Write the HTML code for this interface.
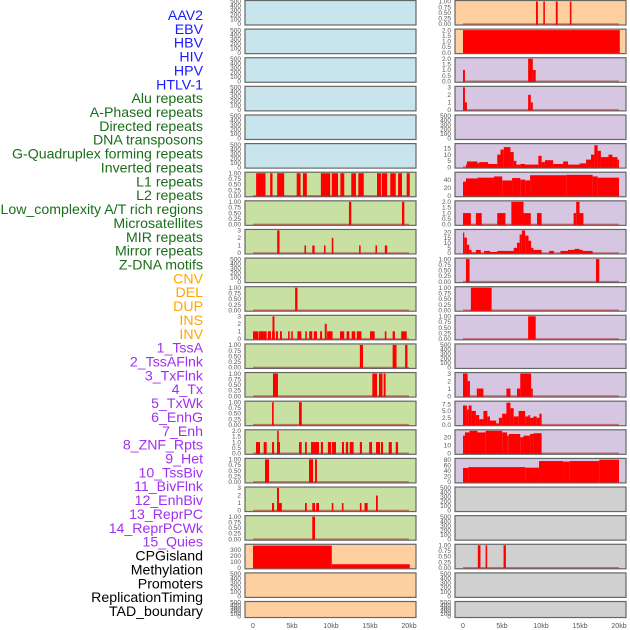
<!DOCTYPE html>
<html><head><meta charset="utf-8"><style>
html,body{margin:0;padding:0;background:#fff;width:630px;height:630px;overflow:hidden}
svg{display:block;font-family:"Liberation Sans",sans-serif}
</style></head><body>
<svg id="chart" width="630" height="630" viewBox="0 0 630 630" xmlns="http://www.w3.org/2000/svg"></svg>
<script>
const labels=["AAV2","EBV","HBV","HIV","HPV","HTLV-1","Alu repeats","A-Phased repeats","Directed repeats","DNA transposons","G-Quadruplex forming repeats","Inverted repeats","L1 repeats","L2 repeats","Low_complexity A/T rich regions","Microsatellites","MIR repeats","Mirror repeats","Z-DNA motifs","CNV","DEL","DUP","INS","INV","1_TssA","2_TssAFlnk","3_TxFlnk","4_Tx","5_TxWk","6_EnhG","7_Enh","8_ZNF_Rpts","9_Het","10_TssBiv","11_BivFlnk","12_EnhBiv","13_ReprPC","14_ReprPCWk","15_Quies","CPGisland","Methylation","Promoters","ReplicationTiming","TAD_boundary"];
const labelColors=["#1a1aff","#1a1aff","#1a1aff","#1a1aff","#1a1aff","#1a1aff","#1a6e1a","#1a6e1a","#1a6e1a","#1a6e1a","#1a6e1a","#1a6e1a","#1a6e1a","#1a6e1a","#1a6e1a","#1a6e1a","#1a6e1a","#1a6e1a","#1a6e1a","#ffa500","#ffa500","#ffa500","#ffa500","#ffa500","#a030f0","#a030f0","#a030f0","#a030f0","#a030f0","#a030f0","#a030f0","#a030f0","#a030f0","#a030f0","#a030f0","#a030f0","#a030f0","#a030f0","#a030f0","#000","#000","#000","#000","#000"];
const xTicks=[0,5,10,15,20];
const xTickLabels=["0","5kb","10kb","15kb","20kb"];
const T500=[0,100,200,300,400,500], T1=[0,0.25,0.5,0.75,1], T3=[0,1,2,3], T2=[0,0.5,1,1.5,2];
const panelTicks=[T500,T500,T500,T500,T500,T500,T1,T1,T3,T500,T1,T3,T1,T1,T1,T2,T1,T3,T1,[0,100,200,300],T500,T500,
 T1,T2,T2,T3,T500,[0,5,10,15],[0,20,40],T2,[0,5,10,15,20],T1,T1,T1,T500,T3,[0,2.5,5,7.5],[0,10,20],[0,20,40,60,80],T500,T500,T1,T500,T500];
const panelMax=[500,500,500,500,500,500,1,1,3,500,1,3,1,1,1,2,1,3,1,380,500,500,
 1,2,2,3,500,18,56,2,22,1,1,1,500,3,8.2,28,82,500,500,1,500,500];
const bars0=[],bars1=[],bars2=[],bars3=[],bars4=[],bars5=[];
const bars6=[[0.4,1.6,1],[2.2,2.5,1],[3.1,4.0,1],[5.6,6.1,1],[6.4,6.9,1],[8.7,9.9,1],[10.1,10.9,1],[11.2,11.7,1],[12.6,13.2,1],[13.5,14.2,1],[15.9,16.4,1],[16.5,17.2,1],[17.6,18.3,1],[18.6,19.1,1],[19.7,20.1,1]];
const bars7=[[12.3,12.6,1],[19.1,19.4,1]];
const bars8=[[3.1,3.4,3],[6.6,6.8,1],[7.6,7.9,1],[9.1,9.3,1],[10.1,10.3,2],[13.6,13.8,1],[15.7,15.9,1],[16.9,17.2,1]];
const bars9=[];
const bars10=[[5.4,5.7,1]];
const bars11=[[0,0.7,1],[0.77,1.75,1],[1.9,2.3,1],[2.44,2.8,1],[2.5,2.75,3],[2.95,3.2,1],[3.46,3.7,1],[4.5,4.7,1],[4.9,5.1,1],[5.7,6.2,1],[6.7,6.9,1],[7.2,7.6,1],[7.8,8.2,1],[8.6,8.85,1],[9.2,9.45,2],[9.5,10.2,1],[11.15,11.7,1],[12.0,12.35,1],[12.65,13.1,1],[13.3,13.9,1],[15.0,15.6,1],[16.9,17.1,1],[17.9,18.2,1],[19.0,19.7,1]];
const bars12=[[13.7,14.1,1],[17.9,18.4,1],[19.5,19.8,1]];
const bars13=[[2.56,3.2,1],[15.3,15.9,1],[16.15,16.6,1],[16.75,17.0,1]];
const bars14=[[2.44,2.65,1],[5.9,6.25,1]];
const bars15=[[0.38,0.9,1],[1.37,1.75,1],[2.44,2.7,1],[3.08,3.46,1],[3.1,3.3,2],[5.9,6.24,1],[6.67,6.9,1],[7.44,8.46,1],[8.7,8.97,1],[9.6,10.0,1],[10.1,10.64,1],[11.4,11.67,1],[11.9,12.2,1],[12.4,12.9,1],[13.7,13.97,1],[14.9,15.26,1],[15.77,16.28,1],[16.4,16.67,1],[17.4,17.8,1],[18.3,18.6,1]];
const bars16=[[1.54,2.05,1],[7.18,7.7,1],[7.95,8.2,1]];
const bars17=[[2.44,2.7,1],[3.08,3.33,3],[3.33,3.7,1],[6.67,6.9,1],[7.6,7.95,1],[8.1,8.46,1],[10.1,10.3,1],[11.4,11.6,1],[13.7,13.9,1],[14.3,14.7,1],[15.77,16.0,2]];
const bars18=[[7.6,7.95,1]];
const bars19=[[0,10.1,375],[10.1,20.1,60]];
const bars20=[],bars21=[];
const bars22=[[9.36,9.6,1],[10.3,10.5,1],[11.9,12.14,1],[13.7,13.9,1]];
const bars23=[[0,20.1,2]];
const bars24=[[0,0.25,1],[8.35,8.95,2],[8.95,9.32,1]];
const bars25=[[0,0.25,3],[0.25,0.5,1],[8.35,8.69,2],[8.69,8.95,1]];
const bars26=[];
const bars27=[[0.38,0.5,2],[0.5,1.86,4.5],[1.86,2.07,3],[2.07,3.2,4],[3.2,4.39,2.5],[4.39,4.81,10],[4.81,5.23,14],[5.23,6.08,16],[6.08,6.5,12],[6.5,6.84,5],[6.84,7.34,2],[7.34,7.97,2.5],[7.97,9.66,2],[9.66,10.08,9],[10.08,10.5,4],[10.5,11.56,5.5],[11.56,12.83,2.5],[12.83,13.46,4.5],[13.46,14.94,2],[14.94,15.78,3],[15.78,16.41,6],[16.41,16.84,10],[16.84,17.26,17.5],[17.26,17.68,13],[17.68,18.65,8],[18.65,19.16,10],[19.16,19.79,8],[19.79,20,6]];
const bars28=[[0,0.38,35],[0.38,1.86,43],[1.86,3.97,45],[3.97,5.02,48],[5.02,6.29,38],[6.29,7.34,44],[7.34,7.97,40],[7.97,8.6,38],[8.6,13.25,51],[13.25,16.62,52],[16.62,17.26,48],[17.26,20,45]];
const bars29=[[0,1.01,1],[1.65,2.4,1],[4.39,5.44,1],[6.2,7.76,2],[7.76,8.69,1],[9.49,10.08,1],[14.18,14.51,1],[14.51,14.94,2],[14.94,15.44,1]];
const bars30=[[0,0.17,20],[0.17,0.5,15],[0.5,0.8,8],[0.8,1.1,3],[1.1,1.65,0.5],[1.65,2.28,3],[2.7,3.46,2],[3.46,4.39,1],[4.39,6.5,2],[6.5,6.92,5],[6.92,7.26,10],[7.26,7.55,18],[7.55,7.97,22],[7.97,8.4,17],[8.4,8.73,12],[8.73,9.03,5],[9.03,10.08,3],[11.05,11.65,2],[12.49,13.46,2],[13.46,14.3,3],[14.3,14.94,4],[14.94,15.36,3],[15.36,16.62,2]];
const bars31=[[0.38,0.84,1],[17.05,17.47,1]];
const bars32=[[1.01,3.67,1]];
const bars33=[[8.35,9.32,1]];
const bars34=[];
const bars35=[[0,0.59,3],[0.59,0.89,2],[1.77,2.62,1],[5.57,6.08,1],[6.92,7.34,1],[7.34,8.73,3],[8.73,8.95,1]];
const bars36=[[0,0.5,7],[0.5,0.72,5.5],[0.72,1.1,7],[1.1,1.65,5],[1.65,2.07,3.5],[2.07,2.62,2],[2.62,3.12,5],[3.12,3.46,3],[3.46,4.26,1.5],[4.26,4.6,0.5],[4.6,5.02,2.5],[5.02,5.57,4],[5.57,6.08,8],[6.08,6.5,6],[6.5,7.13,3],[7.13,7.97,5],[7.97,8.4,3],[8.4,8.6,3.5],[8.6,9.03,2.5],[9.03,9.45,3],[9.45,9.79,2.5],[9.79,10.08,4]];
const bars37=[[0,0.25,22],[0.25,0.84,26],[0.84,1.86,28],[1.86,2.91,26],[2.91,5.02,28],[5.02,5.65,26],[5.65,5.86,22],[5.86,7.34,24],[7.34,7.76,20],[7.76,8.6,22],[8.6,9.03,24],[9.03,10.08,25]];
const bars38=[[0,0.68,51],[0.68,7.97,54],[7.97,9.75,52],[9.75,12.83,76],[12.83,13.67,74],[13.67,17.47,76],[17.47,20,81]];
const bars39=[],bars40=[];
const bars41=[[1.9,2.24,1],[2.9,3.1,1],[5.2,5.5,1]];
const bars42=[],bars43=[];
const allBars=[bars0,bars1,bars2,bars3,bars4,bars5,bars6,bars7,bars8,bars9,bars10,bars11,bars12,bars13,bars14,bars15,bars16,bars17,bars18,bars19,bars20,bars21,bars22,bars23,bars24,bars25,bars26,bars27,bars28,bars29,bars30,bars31,bars32,bars33,bars34,bars35,bars36,bars37,bars38,bars39,bars40,bars41,bars42,bars43];

const NS="http://www.w3.org/2000/svg";
const svg=document.getElementById('chart');
function mk(tag,attrs,parent){const e=document.createElementNS(NS,tag);for(const k in attrs)e.setAttribute(k,attrs[k]);(parent||svg).appendChild(e);return e;}
function bgColor(i){if(i<6)return"#c8e4ec";if(i<19)return"#c8e1a3";if(i<24)return"#fed0a0";if(i<39)return"#d6c6e2";return"#d0d0d0";}

labels.forEach((t,i)=>{
  const e=mk('text',{x:203,y:15+i*13.86+5,'text-anchor':'end','font-size':14.15,fill:labelColors[i]});
  
  
  e.textContent=t;
});

for(let i=0;i<44;i++){
  const col=i<22?0:1, row=i%22;
  const bx=col?455:245, bw=171;
  const top=0.5+row*28.62, h=row===21?16:24.5;
  const x0=bx+8, kx=7.8;
  const xs=kb=>x0+kb*kx;
  const ys=v=>top+h-1-v/panelMax[i]*(h-2);
  const g=mk('g',{});
  
  
  const r=mk('rect',{x:bx,y:top,width:bw,height:h,fill:bgColor(i),stroke:'#666','stroke-width':1.2},g);
  
  
  panelTicks[i].forEach(v=>{
    const t=mk('text',{x:bx-4,y:ys(v)+2.2,'text-anchor':'end','font-size':6.5,fill:'#555'},g);
    
    
    t.textContent=(panelMax[i]===1)?v.toFixed(2):(panelTicks[i]===T2||panelMax[i]===8.2?v.toFixed(1):String(v));
  });
  const bars=allBars[i];
  if(bars.length){
    const bl=mk('line',{x1:xs(0),x2:xs(20),y1:ys(0),y2:ys(0),stroke:'#b03030','stroke-opacity':0.6,'stroke-width':1.5},g);
    
    
  }
  bars.forEach(b=>{
    const s=Math.max(b[0],-0.1), e=Math.min(b[1],20.2);
    const y=ys(b[2]);
    const br=mk('rect',{x:xs(s),y:y,width:Math.max(xs(e)-xs(s),1.2),height:ys(0)-y+0.5,fill:'#ff0000'},g);
    
    
  });
  if(row===21){
    xTicks.forEach((v,k)=>{
      const t=mk('text',{x:xs(v),y:628,'text-anchor':'middle','font-size':7,fill:'#555'});
      
      
      t.textContent=xTickLabels[k];
    });
  }
}
</script>
</body></html>
